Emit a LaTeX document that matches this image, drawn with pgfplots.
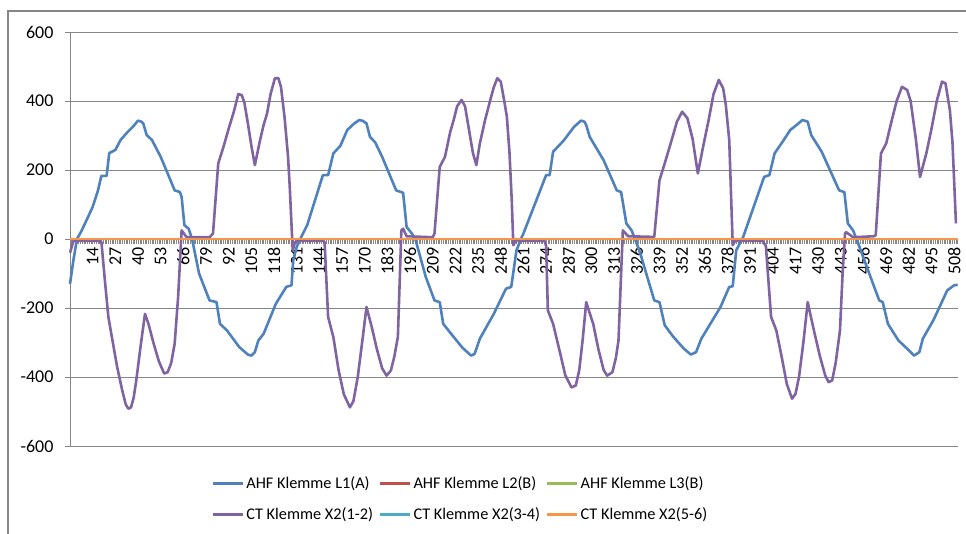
\documentclass[border=0pt]{standalone}
\usepackage{pgfplots}
\pgfplotsset{compat=1.18}
\usepackage{fontspec}
\setmainfont{Carlito}
\definecolor{cBlue}{HTML}{4F81BD}
\definecolor{cRed}{HTML}{C0504D}
\definecolor{cGreen}{HTML}{9BBB59}
\definecolor{cPurple}{HTML}{8064A2}
\definecolor{cCyan}{HTML}{4BACC6}
\definecolor{cOrange}{HTML}{F79646}
\definecolor{cAxis}{HTML}{868686}
\begin{document}
\begin{tikzpicture}[x=1pt,y=1pt]
\useasboundingbox (-70,-88) rectangle (896,446);
\draw[cAxis,line width=1.2pt] (-62,-88) -- (-62,435) -- (896,435);
\begin{axis}[
  at={(0,0)}, anchor=south west,
  scale only axis, width=887.7pt, height=414pt,
  xmin=1, xmax=510, ymin=-600, ymax=600,
  axis x line*=middle, axis y line*=left,
  axis line style={cAxis, line width=0.8pt},
  ytick={-600,-400,-200,0,200,400,600},
  yticklabels={-600,-400,-200,0,200,400,600},
  ymajorgrids, major grid style={cAxis, line width=0.8pt},
  xtick={1,14,...,508},
  minor xtick={1,...,510},
  tick align=outside,
  major tick length=5pt, minor tick length=5pt,
  tick style={cAxis, line width=0.5pt},
  ytick style={cAxis, line width=0.8pt},
  every tick label/.append style={font=\fontsize{18}{18}\selectfont},
  /pgf/number format/assume math mode=true,
  xticklabel style={rotate=90, anchor=east, yshift=0pt},
  yticklabel style={xshift=-8pt},
  clip=false,
  legend columns=3,
  legend cell align=left,
  legend style={at={(0.44,-0.128)}, anchor=center, draw=none, fill=none,
    font=\fontsize{16.3}{16.3}\selectfont, row sep=14pt,
    /tikz/every even column/.append style={column sep=4pt}},
  legend image code/.code={\draw[#1, line width=2.5pt] (0pt,0pt) -- (30pt,0pt);},
  every axis plot/.append style={line width=2.6pt, line join=round},
]
\addplot[cBlue] coordinates {
(1,-130)(3,-60)(5,0)(7,18)(8,28)(11,60)(14,93)(17,140)(19,183)(22,183)(23.5,249)(27,258)(30,287)(34,310)(37,325)(40,343)(42,340)(43,335)(45,301)(48,287)(53,238)(57,190)(61,141)(64,136)(65,122)(66.6,40)(69,30)(71,0)(75,-100)(81,-178)(85,-183)(87,-246)(91,-265)(98,-313)(103,-335)(105,-338)(107,-328)(109,-294)(112,-275)(119,-188)(125,-139)(128,-134)(129,-62)(131,-23)(134,10)(137,40)(146,185)(149,185)(152,248)(156,270)(160,316)(164,335)(167,345)(169,342)(171,335)(173,296)(176,280)(180,238)(188,141)(192,134)(194,35)(197,16)(199,0)(205,-110)(210,-178)(213,-183)(215,-246)(221,-284)(226,-315)(231,-338)(233,-333)(236,-289)(244,-217)(251,-144)(254,-139)(257,-33)(260,5)(261,16)(274,185)(276,185)(278,253)(284,285)(290,325)(294,343)(296,340)(297,330)(299,296)(307,228)(314.5,141)(317,136)(320,45)(323,25)(325,0)(328,-42)(336,-178)(339,-183)(342,-250)(347,-284)(353,-318)(357,-335)(360,-328)(363,-289)(374,-197)(379,-139)(381,-137)(383,-33)(387,6)(399,180)(402,185)(405,248)(410,285)(414,316)(418,332)(421,345)(424,340)(426,301)(432,253)(442,141)(445,136)(447,45)(450,25)(452,0)(460,-110)(465,-178)(467,-183)(470,-246)(476,-294)(481,-318)(485,-338)(488,-328)(490,-289)(496,-236)(504,-149)(508,-134)(510,-133)
};
\addlegendentry{AHF Klemme L1(A)}
\addplot[cRed] coordinates {(1,0)(510,0)};
\addlegendentry{AHF Klemme L2(B)}
\addplot[cGreen] coordinates {(1,0)(510,0)};
\addlegendentry{AHF Klemme L3(B)}
\addplot[cPurple] coordinates {
(1,-40)(3,-5)(17,-5)(19,-8)(21,-120)(23,-226)(25,-284)(28,-370)(31,-440)(33,-480)(34.5,-492)(36,-488)(37.5,-460)(39,-410)(41.5,-310)(44,-217)(46,-246)(49,-304)(52,-355)(55,-390)(57,-386)(59,-360)(61,-304)(63,-168)(65,25)(67,11)(68,5)(81,5)(83,16)(86,219)(89,267)(92,320)(95,370)(97.5,420)(99.5,417)(101,395)(103,335)(105,270)(107,214)(110,287)(112,330)(114,364)(116,420)(118.5,466)(120.5,466)(122,440)(124,354)(126,240)(127,151)(128.7,-33)(130,-10)(131,-5)(146,-5)(147,-10)(149,-226)(152,-284)(155,-380)(158,-450)(161.5,-488)(163.5,-470)(166,-400)(169,-280)(171,-197)(174,-255)(177,-320)(180,-375)(182.5,-396)(185,-381)(187,-340)(189,-284)(191,25)(192,30)(194,8)(209,5)(210,16)(213,209)(216,238)(219,310)(221,345)(223,385)(225.5,403)(227.5,385)(229.5,325)(232,250)(234,214)(236,277)(239,345)(242,403)(244,440)(246,466)(248,456)(250,400)(251.5,354)(253,250)(254.3,112)(255.2,-18)(257,0)(258,-5)(273,-5)(274,-20)(275,-207)(278,-246)(282,-330)(285,-395)(288.5,-430)(291,-425)(293,-380)(295,-290)(297,-183)(299,-215)(301,-246)(304,-320)(307,-380)(309,-396)(312,-386)(314,-345)(315.5,-294)(317,-100)(318,25)(321,8)(336,6)(339,170)(342,219)(346,287)(349,340)(352,369)(355,350)(358,290)(361,190)(364,267)(367,340)(370,420)(373,461)(375.5,437)(377,390)(379,287)(381,-18)(383,0)(384,-5)(398,-5)(400,-20)(403,-226)(406,-265)(409,-340)(412,-420)(415,-463)(417,-449)(419,-400)(421.5,-300)(424,-183)(426,-230)(428,-275)(431,-340)(434,-395)(436,-415)(438,-410)(440,-360)(442.5,-265)(444,-100)(445.4,16)(446,20)(450,5)(462,8)(463,11)(466,248)(469,277)(472,340)(475,400)(478,441)(481,432)(483,400)(486,290)(488.4,180)(492,248)(495,320)(498,400)(501,456)(503,451)(505.5,374)(507,280)(509,45)
};
\addlegendentry{CT Klemme X2(1-2)}
\addplot[cCyan] coordinates {(1,0)(510,0)};
\addlegendentry{CT Klemme X2(3-4)}
\addplot[cOrange] coordinates {(1,0)(510,0)};
\addlegendentry{CT Klemme X2(5-6)}
\end{axis}
\end{tikzpicture}
\end{document}
